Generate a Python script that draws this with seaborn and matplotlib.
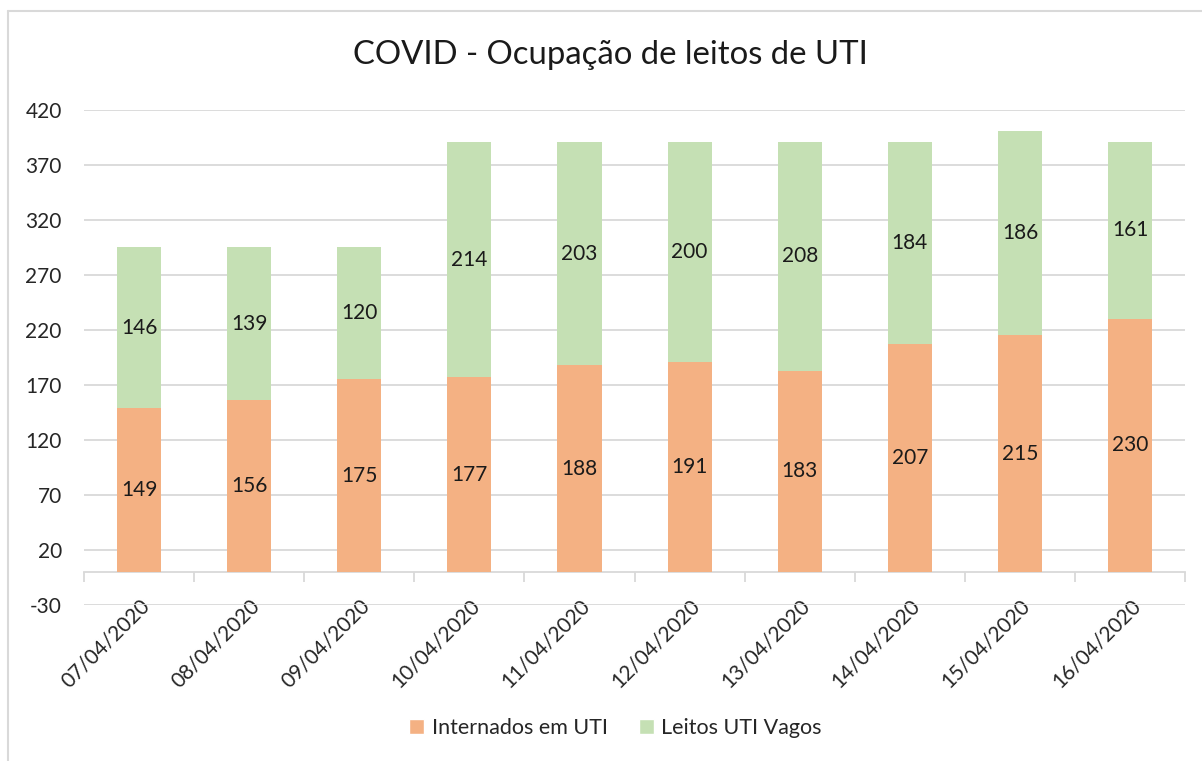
import matplotlib.pyplot as plt
import matplotlib.lines as mlines
from matplotlib.patches import Patch
from matplotlib.ticker import FixedLocator
import seaborn as sns
import pandas as pd

# dados do gráfico
datas = ['07/04/2020', '08/04/2020', '09/04/2020', '10/04/2020', '11/04/2020',
         '12/04/2020', '13/04/2020', '14/04/2020', '15/04/2020', '16/04/2020']
internados = [149, 156, 175, 177, 188, 191, 183, 207, 215, 230]
vagos = [146, 139, 120, 214, 203, 200, 208, 184, 186, 161]
y_ticks = list(range(-30, 421, 50))

COR_INTERNADOS = '#F4B183'
COR_VAGOS = '#C5E0B4'
COR_GRADE = '#D9D9D9'
COR_TEXTO = '#262626'
TAM = 15

df = pd.DataFrame({'data': datas, 'internados': internados, 'vagos': vagos})
df['total'] = df['internados'] + df['vagos']

sns.set_theme(style='white')
plt.rcParams['font.family'] = ['Lato', 'DejaVu Sans']
plt.rcParams['axes.unicode_minus'] = False

fig = plt.figure(figsize=(12.02, 7.61), dpi=100)
ax = fig.add_axes([0.0699, 0.205, 0.916, 0.6505])

# barra total (verde) por baixo, internados (laranja) por cima
sns.barplot(data=df, x='data', y='total', color=COR_VAGOS, width=0.4,
            saturation=1, linewidth=0, ax=ax, zorder=3)
sns.barplot(data=df, x='data', y='internados', color=COR_INTERNADOS, width=0.4,
            saturation=1, linewidth=0, ax=ax, zorder=3)

# rótulos de dados
for i, row in df.iterrows():
    ax.text(i, row['internados'] / 2, str(row['internados']), ha='center', va='center',
            fontsize=TAM, color='#1a1a1a', zorder=4)
    ax.text(i, row['internados'] + row['vagos'] / 2, str(row['vagos']), ha='center',
            va='center', fontsize=TAM, color='#1a1a1a', zorder=4)

ax.set_ylim(-30, 420)
ax.set_xlim(-0.5, len(datas) - 0.5)
ax.set_yticks(y_ticks)
ax.grid(axis='y', color=COR_GRADE, linewidth=1.3, zorder=0)
ax.grid(axis='x', visible=False)
for s in ['top', 'right', 'left']:
    ax.spines[s].set_visible(False)
ax.spines['bottom'].set_position(('data', 0))
ax.spines['bottom'].set_color(COR_GRADE)
ax.spines['bottom'].set_linewidth(1.3)
ax.spines['bottom'].set_zorder(2)

ax.xaxis.set_minor_locator(FixedLocator([i - 0.5 for i in range(len(datas) + 1)]))
ax.tick_params(axis='x', which='minor', bottom=True, length=7, width=1.3,
               color=COR_GRADE, direction='out')
ax.tick_params(axis='x', which='major', length=0, pad=17, labelsize=TAM,
               labelcolor=COR_TEXTO)
ax.tick_params(axis='y', length=0, pad=16, labelsize=TAM, labelcolor=COR_TEXTO)
plt.setp(ax.get_xticklabels(), rotation=45, ha='right', rotation_mode='anchor')
ax.set_xlabel('')
ax.set_ylabel('')

fig.text(0.5075, 0.928, 'COVID - Ocupação de leitos de UTI', ha='center', va='center',
         fontsize=23.7, color='#1a1a1a')

handles = [Patch(facecolor=COR_INTERNADOS, label='Internados em UTI'),
           Patch(facecolor=COR_VAGOS, label='Leitos UTI Vagos')]
fig.legend(handles=handles, loc='center', bbox_to_anchor=(0.512, 0.043), ncol=2,
           frameon=False, fontsize=TAM + 0.5, handlelength=0.7, handleheight=0.7,
           handletextpad=0.35, columnspacing=1.45, labelcolor=COR_TEXTO)

# borda da área do gráfico
fig.add_artist(mlines.Line2D([8 / 1202, 8 / 1202], [0, 1 - 10.5 / 761],
                             color=COR_GRADE, linewidth=1.5))
fig.add_artist(mlines.Line2D([8 / 1202, 1], [1 - 10.5 / 761, 1 - 10.5 / 761],
                             color=COR_GRADE, linewidth=1.5))

fig.savefig('out.png', dpi=100)
